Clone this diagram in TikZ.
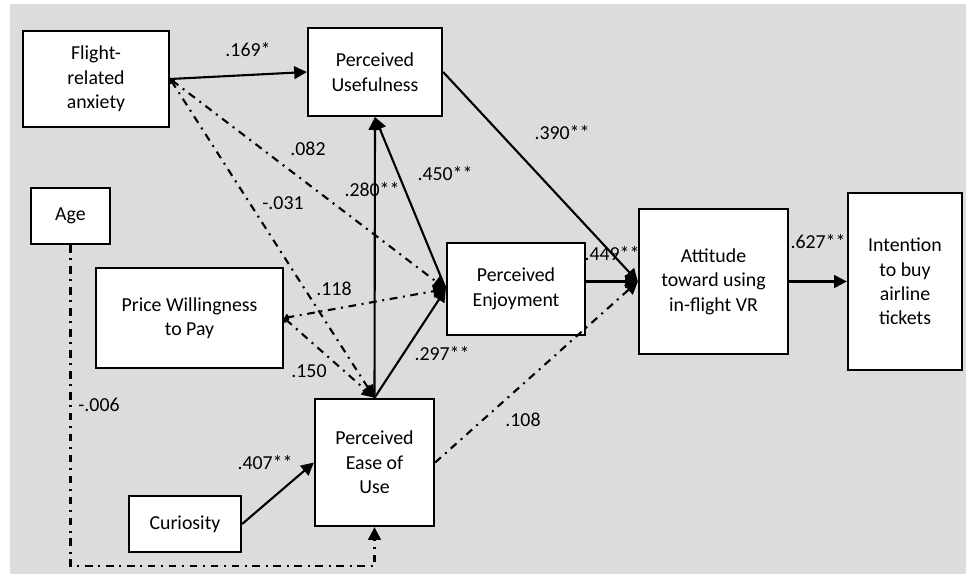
\documentclass[tikz,border=0pt]{standalone}
\usepackage{fontspec}
\setmainfont{Carlito}
\usetikzlibrary{arrows.meta}
\definecolor{bggray}{RGB}{220,220,220}

\begin{document}
\begin{tikzpicture}[x=0.025cm, y=-0.025cm,
  box/.style={draw=black, line width=1.6pt, fill=white, align=center,
              inner sep=0pt, font=\fontsize{14.1}{17.4}\selectfont},
  lbl/.style={inner sep=0pt, font=\fontsize{14.1}{17.4}\selectfont},
  arr/.style={-{Triangle[length=9pt,width=9pt]}, line width=1.5pt},
  dasharr/.style={arr, dash pattern=on 5.5pt off 4pt on 1.4pt off 4pt},
  tailarr/.style={dasharr, {Straight Barb[length=1.8pt,width=4pt]}-{Triangle[length=9pt,width=9pt]}}
]
  \useasboundingbox (0,0) rectangle (966,574);
  \fill[bggray] (10,4) rectangle (966,574);

  % constructs
  \node[box, minimum width=3.65cm, minimum height=2.4cm] (anx) at (96,79) {Flight-\\related\\anxiety};
  \node[box, minimum width=3.35cm, minimum height=2.2cm] (pu) at (375,72) {Perceived\\Usefulness};
  \node[box, minimum width=1.975cm, minimum height=1.4cm] (age) at (70.5,216) {Age};
  \node[box, minimum width=4.675cm, minimum height=2.5cm] (price) at (189.5,318) {Price Willingness\\to Pay};
  \node[box, minimum width=3.45cm, minimum height=2.3cm] (enj) at (516,289) {Perceived\\Enjoyment};
  \node[box, minimum width=3.725cm, minimum height=3.625cm] (att) at (713.5,281.5) {Attitude\\toward using\\in-flight VR};
  \node[box, minimum width=2.85cm, minimum height=4.425cm] (intent) at (905,281.5) {Intention\\to buy\\airline\\tickets};
  \node[box, minimum width=2.975cm, minimum height=3.175cm] (peou) at (374.5,462.5) {Perceived\\Ease of\\Use};
  \node[box, minimum width=2.8cm, minimum height=1.4cm] (cur) at (185,524) {Curiosity};
  \coordinate (agebase) at (70.5,566);

  % paths
  \draw[arr] (anx.east) -- (pu.west);
  \draw[tailarr] (anx.east) -- (enj.west);
  \draw[tailarr] (anx.east) -- (peou.north);
  \draw[tailarr] (price.east) -- (enj.west);
  \draw[tailarr] (price.east) -- (peou.north);
  \draw[arr] (peou.north) -- (pu.south);
  \draw[arr] (enj.west) -- (pu.south);
  \draw[arr] (peou.north) -- (enj.west);
  \draw[arr] (pu.east) -- (att.west);
  \draw[arr] (enj.east |- att.west) -- (att.west);
  \draw[arr] (att.east) -- (intent.west);
  \draw[dasharr] (peou.east) -- (att.west);
  \draw[arr] (cur.east) -- (peou.west);
  \draw[dasharr] (age.south) -- (agebase) -| (peou.south);

  % coefficients
  \node[lbl] (w169) at (248,50) {.169*};
  \node[lbl] (w082) at (308,149) {.082};
  \node[lbl] (w031) at (283,203) {-.031};
  \node[lbl] (w280) at (372,190) {.280**};
  \node[lbl] (w450) at (445,174) {.450**};
  \node[lbl] (w390) at (562,133) {.390**};
  \node[lbl] (w449) at (612,254) {.449**};
  \node[lbl] (w627) at (818,242) {.627**};
  \node[lbl] (w118) at (334,289) {.118};
  \node[lbl] (w150) at (309,371) {.150};
  \node[lbl] (w297) at (442,354) {.297**};
  \node[lbl] (w006) at (99,405) {-.006};
  \node[lbl] (w407) at (265,463) {.407**};
  \node[lbl] (w108) at (523,420) {.108};
\end{tikzpicture}
\end{document}
